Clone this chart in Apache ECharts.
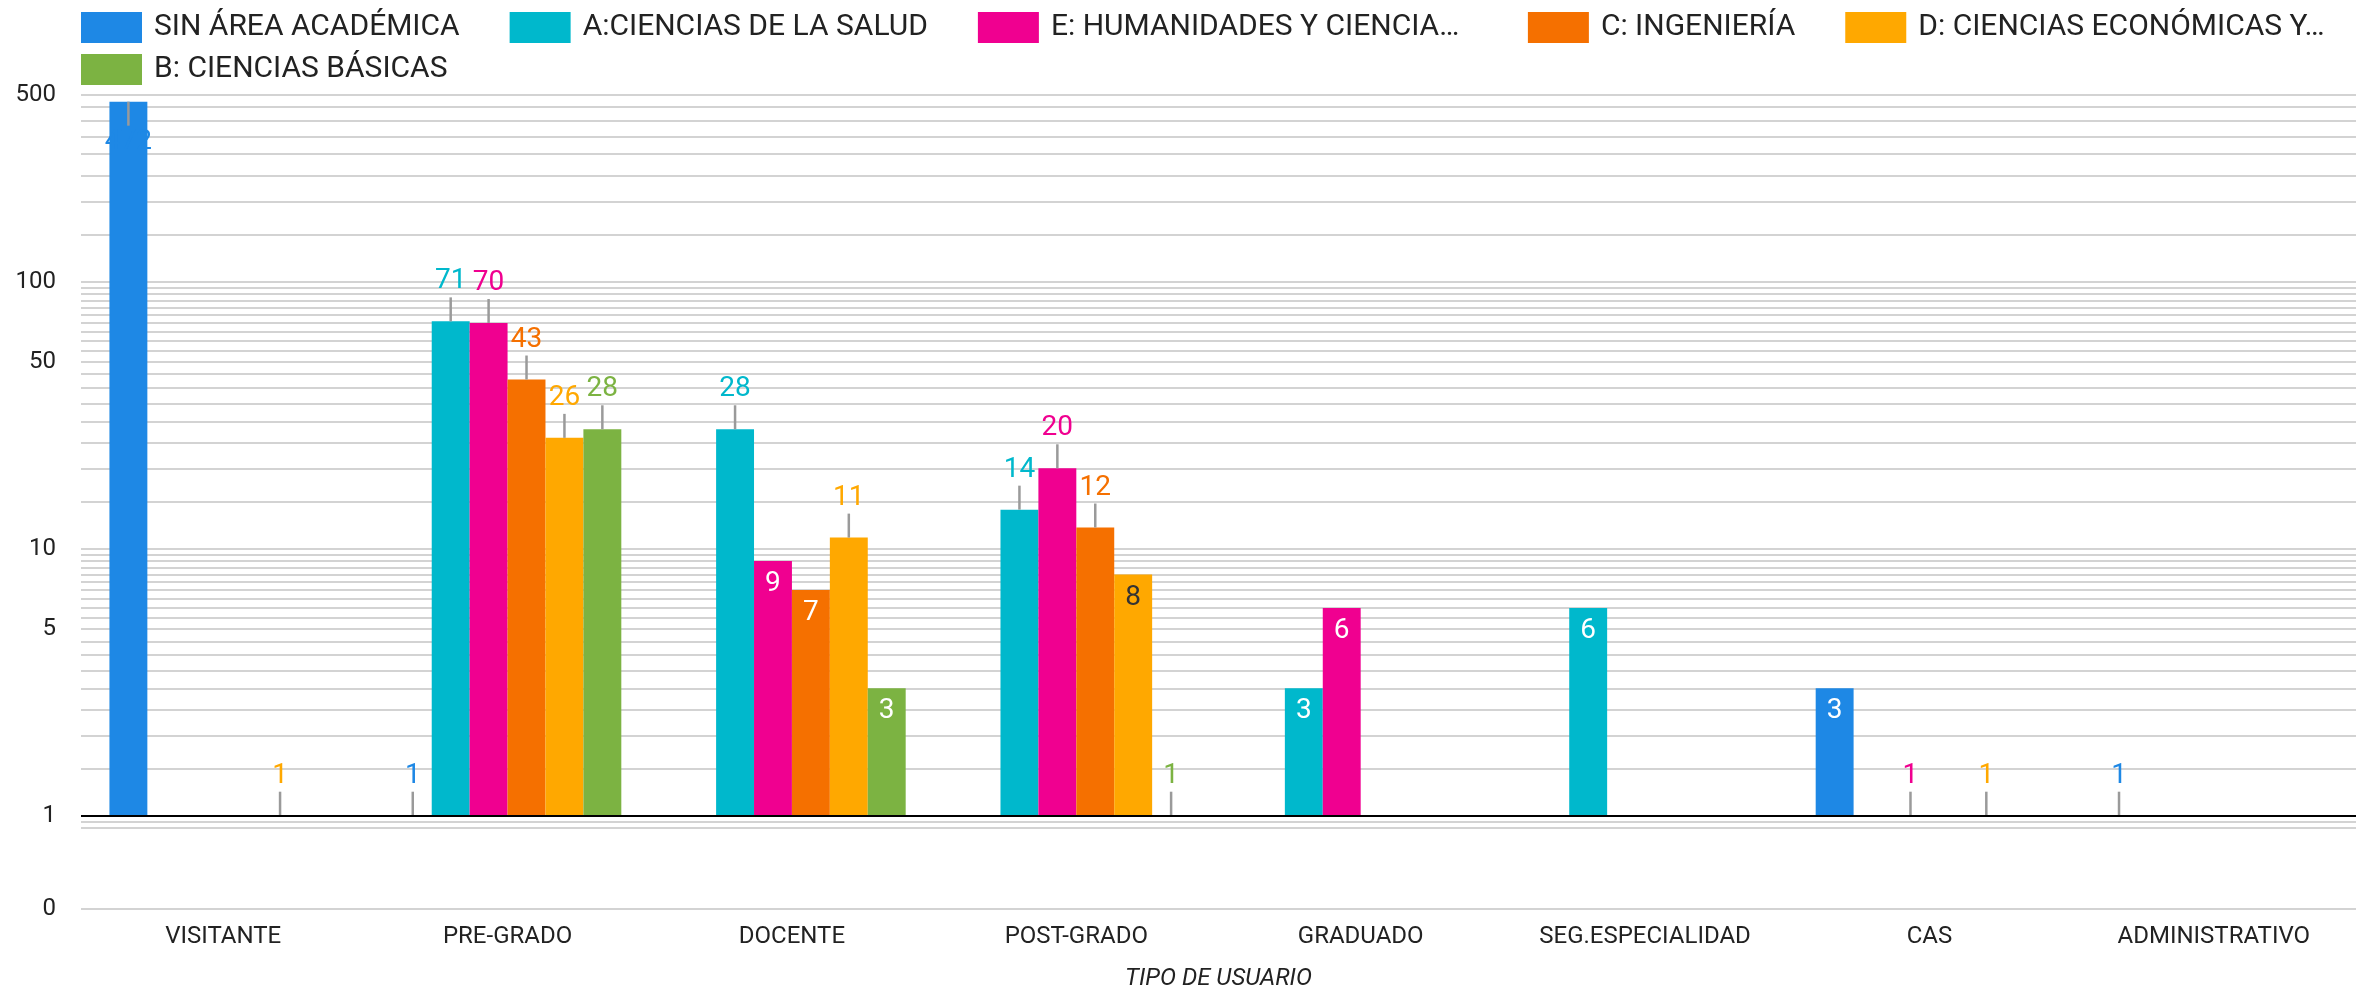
<!DOCTYPE html>
<html>
<head>
<meta charset="utf-8">
<title>Tipo de usuario por área académica</title>
<script src="https://cdn.jsdelivr.net/npm/echarts@6/dist/echarts.min.js"></script>
<style>
  html, body { margin: 0; padding: 0; background: #fff; }
  #chart { width: 2375px; height: 996px; }
</style>
</head>
<body>
<div id="chart"></div>
<script>
// eje X
const categories = ['VISITANTE', 'PRE-GRADO', 'DOCENTE', 'POST-GRADO', 'GRADUADO', 'SEG.ESPECIALIDAD', 'CAS', 'ADMINISTRATIVO']

const seriesNames = [
  'SIN ÁREA ACADÉMICA',
  'A:CIENCIAS DE LA SALUD',
  'E: HUMANIDADES Y CIENCIAS SOCIALES',
  'C: INGENIERÍA',
  'D: CIENCIAS ECONÓMICAS Y EMPRESARIALES',
  'B: CIENCIAS BÁSICAS'
]

// null = sin registros
const sinArea = [472, 1, null, null, null, null, 3, 1]
const cienciasSalud = [null, 71, 28, 14, 3, 6, null, null]
const humanidades = [null, 70, 9, 20, 6, null, 1, null]
const ingenieria = [null, 43, 7, 12, null, null, null, null]
const economicas = [1, 26, 11, 8, null, null, 1, null]
const basicas = [null, 28, 3, 1, null, null, null, null]

// eje Y logaritmico, el "0" queda por debajo de 1
const yTickValues = [1, 5, 10, 50, 100, 500]
const yZero = 0.4473
const yMax = 500
// lineas menores: [desde, hasta, paso]
const minorSteps = [[0.9, 1, 0.05], [1, 5, 0.5], [5, 10, 0.5], [10, 50, 5], [50, 100, 5], [100, 500, 50]]

const seriesValues = [sinArea, cienciasSalud, humanidades, ingenieria, economicas, basicas]
const colors = ['#1E88E5', '#00B8CC', '#F00090', '#F57000', '#FFA800', '#7CB342']
const insideText = ['#fff', '#fff', '#fff', '#fff', '#333', '#fff']
const FONT = 'Roboto'

const gridValues = [yZero]
minorSteps.forEach(([from, to, step]) => {
  for (let v = from; v <= to + 1e-9; v += step) gridValues.push(Math.round(v * 100) / 100)
})

function labelFor(v, i) {
  const rich = {
    v: { fontSize: 28, lineHeight: 32, color: colors[i], fontFamily: FONT },
    s: { width: 2.5, height: 24, backgroundColor: '#9a9a9a' }
  }
  if (v > 1 && v < 10) {
    return { show: true, position: 'insideTop', distance: 9, fontSize: 28, lineHeight: 28, fontFamily: FONT, color: insideText[i] }
  }
  if (v > 300) {
    return { show: true, position: 'insideTop', distance: 0, formatter: '{s|}\n{v|{c}}', rich }
  }
  return { show: true, position: 'top', distance: 0, formatter: '{v|{c}}\n{s|}', rich }
}

const series = seriesNames.map((name, i) => ({
  name,
  type: 'bar',
  barGap: '0%',
  barCategoryGap: '20%',
  itemStyle: { color: colors[i] },
  data: seriesValues[i].map(v => (v == null ? null : { value: v, label: labelFor(v, i) })),
  markLine: i === 0 ? {
    silent: true,
    symbol: ['none', 'none'],
    label: { show: false },
    lineStyle: { color: '#000', width: 2, type: 'solid' },
    data: [{ yAxis: 1 }]
  } : undefined
}))

const legendCommon = {
  icon: 'rect',
  itemWidth: 61,
  itemHeight: 31,
  itemGap: 50,
  padding: 0,
  selectedMode: false,
  textStyle: { fontSize: 30, lineHeight: 31, color: '#222', fontFamily: FONT, padding: [0, 0, 0, 7] }
}
// nombres largos recortados como en la leyenda original
const cutText = {
  'E: HUMANIDADES Y CIENCIAS SOCIALES': { width: 420, padding: [0, 7, 0, 7] },
  'D: CIENCIAS ECONÓMICAS Y EMPRESARIALES': { width: 413 }
}

const chart = echarts.init(document.getElementById('chart'))
chart.setOption({
  animation: false,
  textStyle: { fontFamily: FONT },
  legend: [
    {
      ...legendCommon,
      left: 81,
      top: 12,
      data: seriesNames.slice(0, 5).map(n => (cutText[n]
        ? { name: n, textStyle: { ...cutText[n], overflow: 'truncate', ellipsis: '…' } }
        : { name: n }))
    },
    { ...legendCommon, left: 81, top: 54, data: [seriesNames[5]] }
  ],
  grid: { left: 81, right: 19, top: 95, bottom: 83 },
  xAxis: {
    type: 'category',
    data: categories,
    axisLine: { show: false },
    axisTick: { show: false },
    axisLabel: { interval: 0, fontSize: 24, color: '#222', margin: 16 },
    name: 'TIPO DE USUARIO',
    nameLocation: 'middle',
    nameGap: 58,
    nameTextStyle: { fontStyle: 'italic', fontSize: 24, color: '#222' }
  },
  yAxis: {
    type: 'log',
    logBase: 10,
    min: yZero,
    max: yMax,
    axisLine: { show: false },
    axisTick: { show: false, customValues: gridValues },
    axisLabel: {
      customValues: [yZero].concat(yTickValues),
      formatter: v => (v < 1 ? '0' : String(Math.round(v))),
      fontSize: 24,
      color: '#222',
      margin: 25
    },
    splitLine: { show: true, lineStyle: { color: '#d3d3d3', width: 2 } }
  },
  series
})
window.addEventListener('resize', () => chart.resize())
</script>
</body>
</html>
